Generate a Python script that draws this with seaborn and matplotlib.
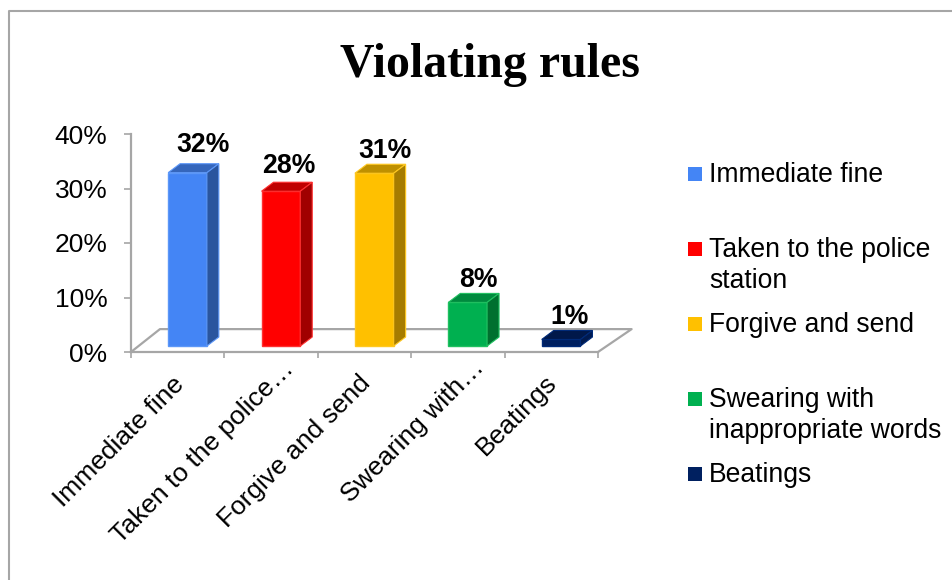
import matplotlib
matplotlib.use("Agg")
import matplotlib.pyplot as plt
import seaborn as sns
from matplotlib.patches import Polygon, Rectangle
from matplotlib.lines import Line2D
from matplotlib.transforms import ScaledTranslation

categories = ['Immediate fine', 'Taken to the police station', 'Forgive and send',
              'Swearing with inappropriate words', 'Beatings']
tick_labels = ['Immediate fine', 'Taken to the police…', 'Forgive and send',
               'Swearing with…', 'Beatings']
legend_labels = ['Immediate fine', 'Taken to the police\nstation', 'Forgive and send',
                 'Swearing with\ninappropriate words', 'Beatings']
values = [31.8, 28.4, 31.7, 8.0, 1.2]
value_labels = ['32%', '28%', '31%', '8%', '1%']
yticks = [0, 10, 20, 30, 40]

front_colors = ['#4485F5', '#FF0000', '#FFC000', '#00B050', '#002060']
edge_colors = ['#5C97F8', '#FF3030', '#FFC820', '#20C060', '#002A78']
top_colors = ['#3566BC', '#BF0000', '#BF9000', '#008A3E', '#00184A']
side_colors = ['#2A559E', '#A00000', '#A67C00', '#00702F', '#001A50']

# hand nudges in pixels (right, up) to sit labels where the original has them
value_nudge = [(16, 28), (8, 25), (11, 22), (11, 22), (8, 22)]
tick_nudge = [(-6, 3), (10, 19), (-6, 5), (14, 20), (-7, 5)]

sns.set_style('white')
plt.rcParams['font.family'] = ['Liberation Sans', 'DejaVu Sans']

W, H = 953, 580
fig = plt.figure(figsize=(W / 100, H / 100), dpi=100)
ax = fig.add_axes([131 / W, 1 - 352 / H, 467 / W, 218 / H])

# depth of the fake 3d effect, in data units
dx = 0.128
dy = 1.65
base = 1.1
bar_w = 0.415
shift = 0.105
gray = '#A6A6A6'

# floor
floor = Line2D([-0.5, -0.19, 4.86, 4.5], [0, 4.2, 4.2, 0], color=gray, lw=1.6, clip_on=False, zorder=1)
ax.add_line(floor)

sns.barplot(x=categories, y=values, hue=categories, palette=front_colors, hue_order=categories,
            order=categories, saturation=1, width=bar_w, bottom=base, legend=False, ax=ax, zorder=3)

for i, bar in enumerate(ax.patches):
    bar.set_x(bar.get_x() + shift)
    bar.set_edgecolor(edge_colors[i])
    bar.set_linewidth(1)
    x0 = bar.get_x()
    x1 = x0 + bar.get_width()
    y0 = bar.get_y()
    y1 = y0 + bar.get_height()
    ax.add_patch(Polygon([(x0, y1), (x1, y1), (x1 + dx, y1 + dy), (x0 + dx, y1 + dy)],
                         fc=top_colors[i], ec=edge_colors[i], lw=0.8, zorder=3, clip_on=False))
    ax.add_patch(Polygon([(x1, y0), (x1 + dx, y0 + dy), (x1 + dx, y1 + dy), (x1, y1)],
                         fc=side_colors[i], ec=edge_colors[i], lw=0.8, zorder=3, clip_on=False))
    ax.annotate(value_labels[i], (i + shift, y1),
                xytext=(value_nudge[i][0] * 0.72, value_nudge[i][1] * 0.72), textcoords='offset points',
                ha='center', va='center', fontsize=19.2, fontweight='bold', color='black')

ax.set_xlim(-0.5, 4.5)
ax.set_ylim(0, 40)
ax.set_yticks(yticks)
ax.set_yticklabels([f'{v}%' for v in yticks], fontsize=19, color='black')
ax.set_xticks(range(5))
ax.set_xticklabels(tick_labels, rotation=45, ha='right', rotation_mode='anchor', fontsize=19, color='black')
ax.set_xticks([-0.5, 0.5, 1.5, 2.5, 3.5, 4.5], minor=True)
ax.tick_params(axis='x', which='major', length=0, pad=17)
ax.tick_params(axis='x', which='minor', length=4, width=1.2, color=gray, bottom=True)
ax.tick_params(axis='y', length=5, width=1.2, color=gray, left=True, pad=12)
for lab, (nx, ny) in zip(ax.get_xticklabels(), tick_nudge):
    lab.set_transform(lab.get_transform() + ScaledTranslation(nx / 100, ny / 100, fig.dpi_scale_trans))
sns.despine(ax=ax, top=True, right=True)
for side in ['left', 'bottom']:
    ax.spines[side].set_color(gray)
    ax.spines[side].set_linewidth(1.6)
ax.patch.set_alpha(0)

# outer chart frame
fig.add_artist(Line2D([9 / W, 9 / W, 1], [0, 1 - 11 / H, 1 - 11 / H], color='#A6A6A6', lw=1.5))

fig.text(490 / W, 1 - 65 / H, 'Violating rules', family='Liberation Serif', fontweight='bold',
         fontsize=34.5, ha='center', va='center', color='black')

# legend, markers sit on the first line of every entry
for i, label in enumerate(legend_labels):
    y = 174 + 75 * i
    fig.add_artist(Rectangle((688 / W, 1 - (y + 7) / H), 14 / W, 14 / H, transform=fig.transFigure,
                             fc=front_colors[i], ec='none'))
    fig.text(709 / W, 1 - (y - 12) / H, label, fontsize=19.1, va='top', ha='left',
             color='black', linespacing=1.27)

fig.savefig('out.png', dpi=100)
